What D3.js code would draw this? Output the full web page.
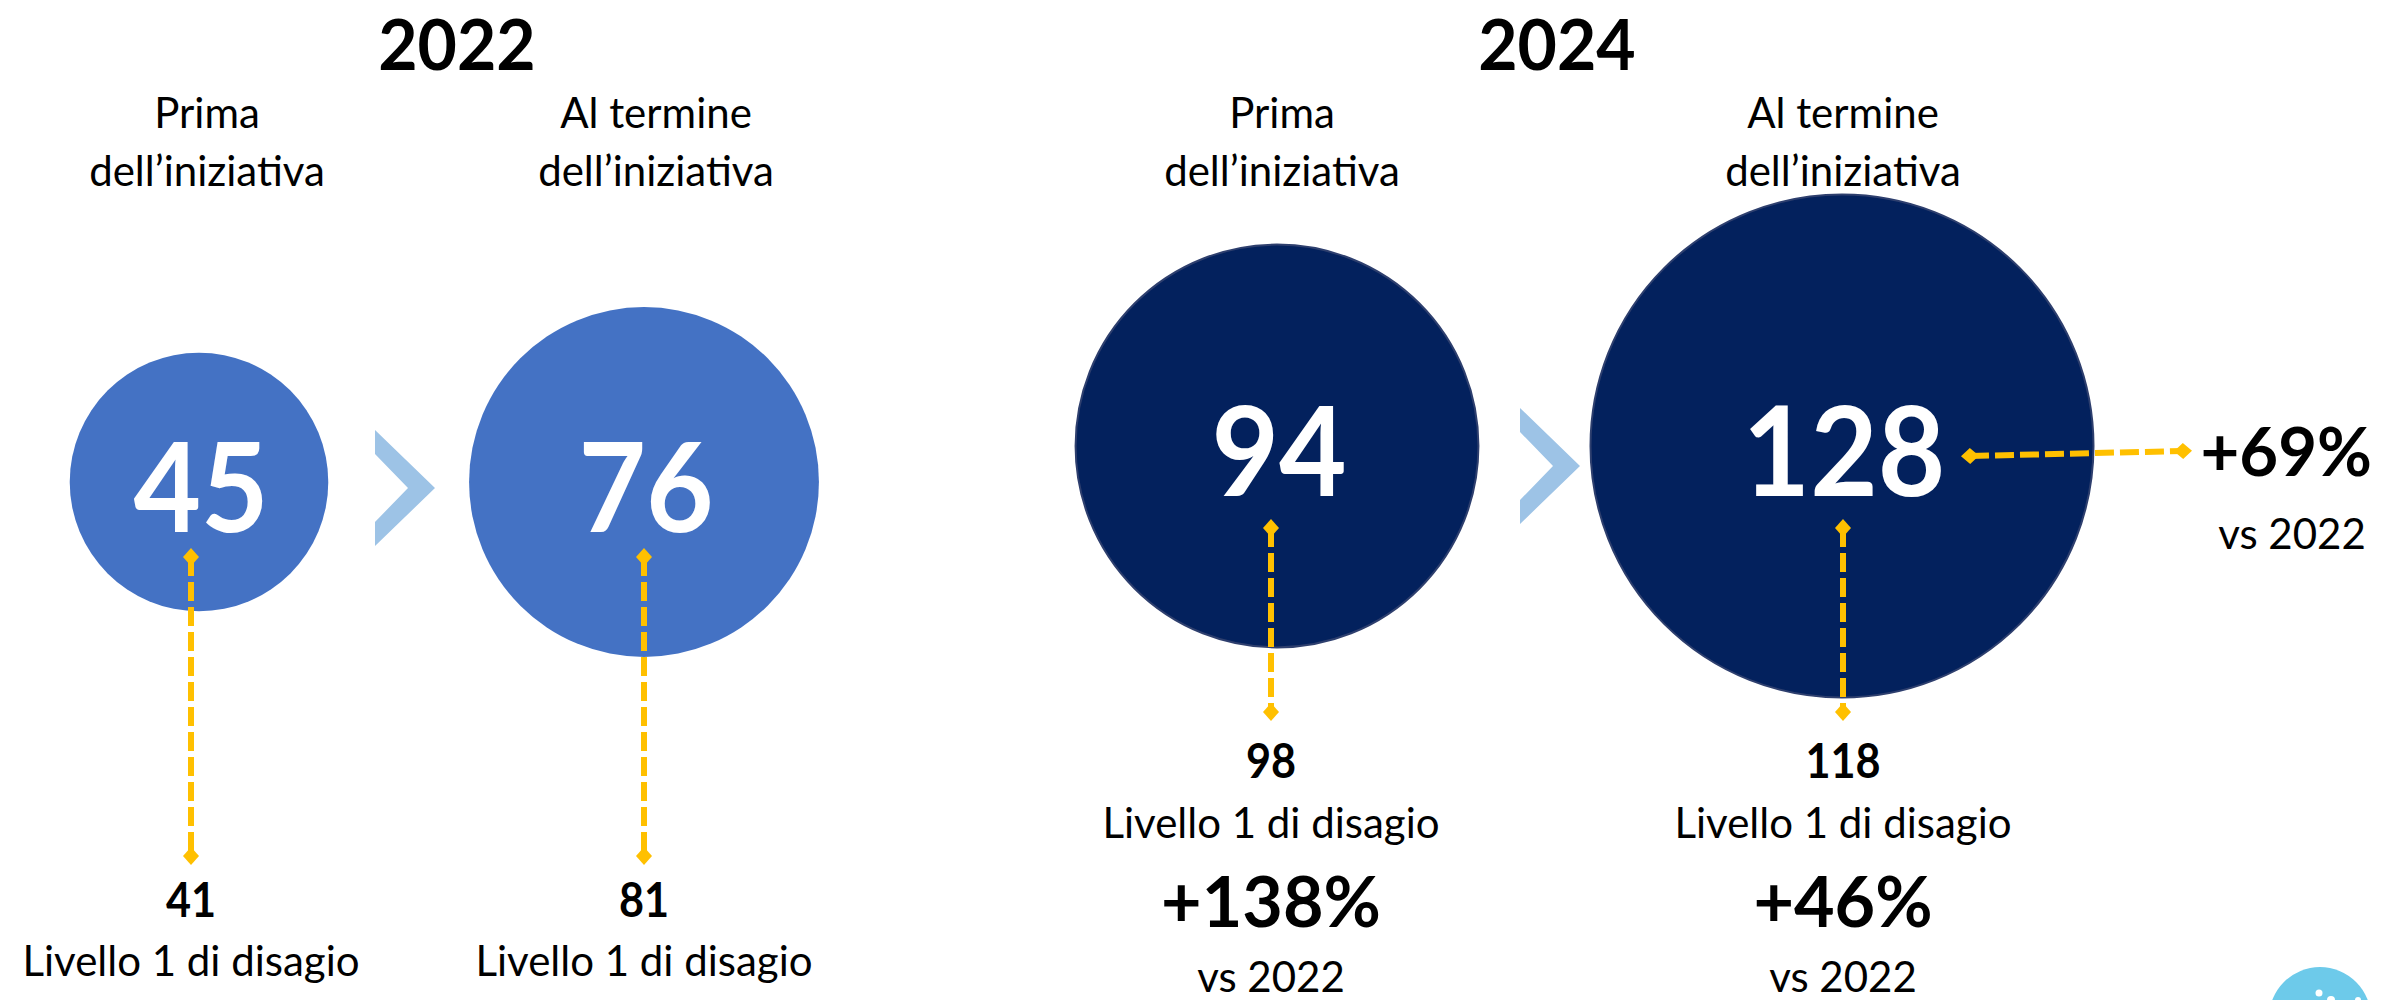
<!DOCTYPE html>
<html>
<head>
<meta charset="utf-8">
<script src="https://d3js.org/d3.v7.min.js"></script>
<style>
  body { margin: 0; background: #fff; }
  text { font-family: Lato, "Open Sans", sans-serif; fill: #000; }
</style>
</head>
<body>
<script>
const years = ["2022", "2024"];
const phaseLabels = [["Prima", "dell’iniziativa"], ["Al termine", "dell’iniziativa"]];
const participants = [[45, 76], [94, 128]];
const level1 = [[41, 81], [98, 118]];
const levelLabel = "Livello 1 di disagio";
const growth2024 = ["+138%", "+46%"];
const growthTotal = "+69%";
const vsLabel = "vs 2022";

const width = 2386;
const height = 1000;

// layout for each year block
const layout = [
    { titleX: 457, cy: 482, numBase: 532, colX: [199, 644], topX: [207, 656], botX: [191, 644],
      dashTop: 557, dashBottom: 856, valBase: 917, lvlBase: 976, chevX: 405, chevY: 488,
      fill: "#4472C4", stroke: "none" },
    { titleX: 1557, cy: 446, numBase: 496, colX: [1277, 1842], topX: [1282, 1843], botX: [1271, 1843],
      dashTop: 528, dashBottom: 712, valBase: 778, lvlBase: 838, chevX: 1550, chevY: 466,
      fill: "#03215D", stroke: "#2E3F6E" }
];

const yellow = "#FFC000";

const r = d3.scaleLinear().domain([0, 128]).range([63, 251.5]);

// Lato is wider than the original font, squeeze bold figures a bit
function squeeze(sel, k) {
    sel.each(function () {
        const w = this.getComputedTextLength();
        d3.select(this)
            .attr("textLength", w * k)
            .attr("lengthAdjust", "spacingAndGlyphs");
    });
}

const svg = d3.select("body").append("svg")
    .attr("width", width)
    .attr("height", height);

const defs = svg.append("defs");
defs.append("marker")
    .attr("id", "diamond")
    .attr("viewBox", "-9 -9 18 18")
    .attr("markerWidth", 18)
    .attr("markerHeight", 18)
    .attr("markerUnits", "userSpaceOnUse")
    .attr("orient", "auto")
    .append("path")
    .attr("d", "M-9,0L0,-8L9,0L0,8Z")
    .attr("fill", yellow);

years.forEach((year, g) => {
    const L = layout[g];
    const grp = svg.append("g").attr("class", "year-" + year);

    // year title
    grp.append("text")
        .attr("x", L.titleX)
        .attr("y", 69.5)
        .attr("text-anchor", "middle")
        .style("font-weight", 700)
        .style("font-size", "70px")
        .text(year)
        .call(squeeze, 0.97);

    // phase labels
    phaseLabels.forEach((lines, i) => {
        lines.forEach((line, j) => {
            grp.append("text")
                .attr("x", L.topX[i])
                .attr("y", 128 + j * 58)
                .attr("text-anchor", "middle")
                .style("font-size", "42px")
                .text(line);
        });
    });

    // chevron between circles
    const c = [[-30, -58], [-30, -34], [3, 0], [-30, 34], [-30, 58], [30, 0]];
    grp.append("polygon")
        .attr("points", c.map(p => [L.chevX + p[0], L.chevY + p[1]].join(",")).join(" "))
        .attr("fill", "#9DC3E6");

    // circles
    grp.selectAll("circle.bubble")
        .data(participants[g])
        .enter().append("circle")
        .attr("class", "bubble")
        .attr("cx", (d, i) => L.colX[i])
        .attr("cy", L.cy)
        .attr("r", d => r(d))
        .attr("fill", L.fill)
        .attr("stroke", L.stroke)
        .attr("stroke-width", 2);

    grp.selectAll("text.bubble-num")
        .data(participants[g])
        .enter().append("text")
        .attr("class", "bubble-num")
        .attr("x", (d, i) => L.colX[i] + 2)
        .attr("y", L.numBase)
        .attr("text-anchor", "middle")
        .style("font-weight", 700)
        .style("font-size", "124px")
        .style("fill", "#fff")
        .text(d => d)
        .call(squeeze, 0.94);

    // dashed connectors down to level 1 values
    grp.selectAll("line.conn")
        .data(level1[g])
        .enter().append("line")
        .attr("class", "conn")
        .attr("x1", (d, i) => L.botX[i])
        .attr("x2", (d, i) => L.botX[i])
        .attr("y1", L.dashTop)
        .attr("y2", L.dashBottom)
        .attr("stroke", yellow)
        .attr("stroke-width", 6)
        .attr("stroke-dasharray", "19 6")
        .attr("marker-start", "url(#diamond)")
        .attr("marker-end", "url(#diamond)");

    grp.selectAll("text.lvl-val")
        .data(level1[g])
        .enter().append("text")
        .attr("class", "lvl-val")
        .attr("x", (d, i) => L.botX[i])
        .attr("y", L.valBase)
        .attr("text-anchor", "middle")
        .style("font-weight", 700)
        .style("font-size", "47px")
        .text(d => d)
        .call(squeeze, 0.92);

    grp.selectAll("text.lvl-lab")
        .data(level1[g])
        .enter().append("text")
        .attr("class", "lvl-lab")
        .attr("x", (d, i) => L.botX[i])
        .attr("y", L.lvlBase)
        .attr("text-anchor", "middle")
        .style("font-size", "42px")
        .text(levelLabel);
});

// 2024 growth vs 2022
const L24 = layout[1];
svg.selectAll("text.growth")
    .data(growth2024)
    .enter().append("text")
    .attr("class", "growth")
    .attr("x", (d, i) => L24.botX[i])
    .attr("y", 927)
    .attr("text-anchor", "middle")
    .style("font-weight", 700)
    .style("font-size", "70px")
    .text(d => d);

svg.selectAll("text.growth-vs")
    .data(growth2024)
    .enter().append("text")
    .attr("class", "growth-vs")
    .attr("x", (d, i) => L24.botX[i])
    .attr("y", 992)
    .attr("text-anchor", "middle")
    .style("font-size", "42px")
    .text(vsLabel);

// total growth arrow on the right
const bigX = L24.colX[1];
svg.append("line")
    .attr("x1", bigX + 128)
    .attr("y1", L24.cy + 10)
    .attr("x2", bigX + 341)
    .attr("y2", L24.cy + 5)
    .attr("stroke", yellow)
    .attr("stroke-width", 6)
    .attr("stroke-dasharray", "19 6")
    .attr("marker-start", "url(#diamond)")
    .attr("marker-end", "url(#diamond)");

svg.append("text")
    .attr("x", 2372)
    .attr("y", 476)
    .attr("text-anchor", "end")
    .style("font-weight", 700)
    .style("font-size", "67px")
    .text(growthTotal);

svg.append("text")
    .attr("x", 2292)
    .attr("y", 549)
    .attr("text-anchor", "middle")
    .style("font-size", "42px")
    .text(vsLabel);

// corner logo (partly off the page)
const logo = svg.append("g");
logo.append("circle")
    .attr("cx", 2320)
    .attr("cy", 1018)
    .attr("r", 51)
    .attr("fill", "#6DCAEA");
logo.selectAll("circle.dot")
    .data([[2319, 993, 3.5], [2331, 1000, 4], [2358, 1000, 3]])
    .enter().append("circle")
    .attr("class", "dot")
    .attr("cx", d => d[0])
    .attr("cy", d => d[1])
    .attr("r", d => d[2])
    .attr("fill", "#fff");
</script>
</body>
</html>
